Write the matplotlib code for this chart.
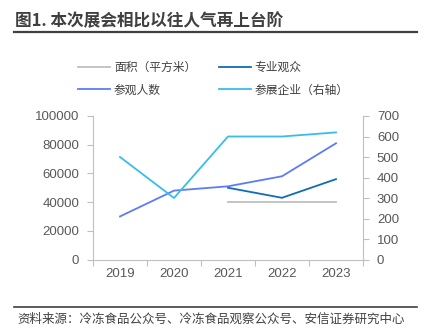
import numpy as np
import matplotlib
matplotlib.use('Agg')
import matplotlib.pyplot as plt
from matplotlib.lines import Line2D

plt.rcParams['font.family'] = ['Noto Sans CJK SC', 'DejaVu Sans']

years = ['2019', '2020', '2021', '2022', '2023']
area = [np.nan, np.nan, 40000, 40000, 40000]          # 面积（平方米）
pro_visitors = [np.nan, np.nan, 50000, 43000, 56000]  # 专业观众
visitors = [30000, 48000, 51000, 58000, 81000]        # 参观人数
exhibitors = [500, 300, 600, 600, 620]                # 参展企业（右轴）

c_area = '#BFBFBF'
c_pro = '#0F6DB5'
c_vis = '#5B7CF7'
c_exh = '#38BDEB'
c_axis = '#BFBFBF'
c_text = '#595959'

W, H = 431, 336
fig = plt.figure(figsize=(W / 100, H / 100), dpi=100)

left, right, top, bottom = 93, 363, 116, 259.5
ax = fig.add_axes([left / W, 1 - bottom / H, (right - left) / W, (bottom - top) / H])
ax2 = ax.twinx()

x = np.arange(len(years))
ax.plot(x, area, color=c_area, lw=1.3)
ax.plot(x, pro_visitors, color=c_pro, lw=1.3)
ax.plot(x, visitors, color=c_vis, lw=1.3)
ax2.plot(x, exhibitors, color=c_exh, lw=1.3)

ax.set_xlim(-0.5, len(years) - 0.5)
ax.set_ylim(0, 100000)
ax2.set_ylim(0, 700)
ax.set_yticks(np.arange(0, 100001, 20000))
ax2.set_yticks(np.arange(0, 701, 100))

# category labels centred, tick marks on the boundaries
ax.set_xticks(np.arange(-0.5, len(years)), minor=False)
ax.set_xticklabels([])
ax.set_xticks(x, minor=True)
ax.set_xticklabels(years, minor=True)
ax.tick_params(axis='x', which='minor', length=0, pad=6)
ax.tick_params(axis='x', which='major', length=4, color=c_axis, direction='out')

for a in (ax, ax2):
    for s in a.spines.values():
        s.set_color(c_axis)
    a.spines['top'].set_visible(False)
ax.spines['right'].set_visible(False)
ax2.spines['left'].set_visible(False)
ax2.spines['bottom'].set_visible(False)

lab_font = dict(family=['Liberation Sans', 'DejaVu Sans'], size=9.5)
for lbl in ax.get_xticklabels(minor=True) + ax.get_yticklabels() + ax2.get_yticklabels():
    lbl.set_fontfamily(lab_font['family'])
    lbl.set_fontsize(lab_font['size'])
    lbl.set_color(c_text)
ax.tick_params(axis='y', length=4, color=c_axis, pad=6)
ax2.tick_params(axis='y', length=4, color=c_axis, pad=6)

handles = [
    Line2D([], [], color=c_area, lw=1.3),
    Line2D([], [], color=c_vis, lw=1.3),
    Line2D([], [], color=c_pro, lw=1.3),
    Line2D([], [], color=c_exh, lw=1.3),
]
labels = ['面积（平方米）', '参观人数', '专业观众', '参展企业（右轴）']
fig.legend(handles, labels, ncol=2, loc='upper left',
           bbox_to_anchor=(78 / W, 1 - 61 / H), frameon=False,
           prop=dict(size=8.5), labelcolor='#404040',
           handlelength=2.7, handletextpad=0.35, columnspacing=1.9,
           labelspacing=0.8, borderpad=0, borderaxespad=0)

# title and source
fig.text(15 / W, 1 - 21.5 / H, '图1. 本次展会相比以往人气再上台阶',
         fontsize=12, fontweight='bold', color='#404040', va='center', ha='left')
fig.add_artist(Line2D([14 / W, 417 / W], [1 - 32 / H, 1 - 32 / H], color='#404040', lw=1.6))
fig.add_artist(Line2D([14 / W, 417 / W], [1 - 307 / H, 1 - 307 / H], color='#404040', lw=1.2))
fig.text(17 / W, 1 - 319 / H, '资料来源：冷冻食品公众号、冷冻食品观察公众号、安信证券研究中心',
         fontsize=9, style='italic', color='#404040', va='center', ha='left')

fig.savefig('out.png', dpi=100)
